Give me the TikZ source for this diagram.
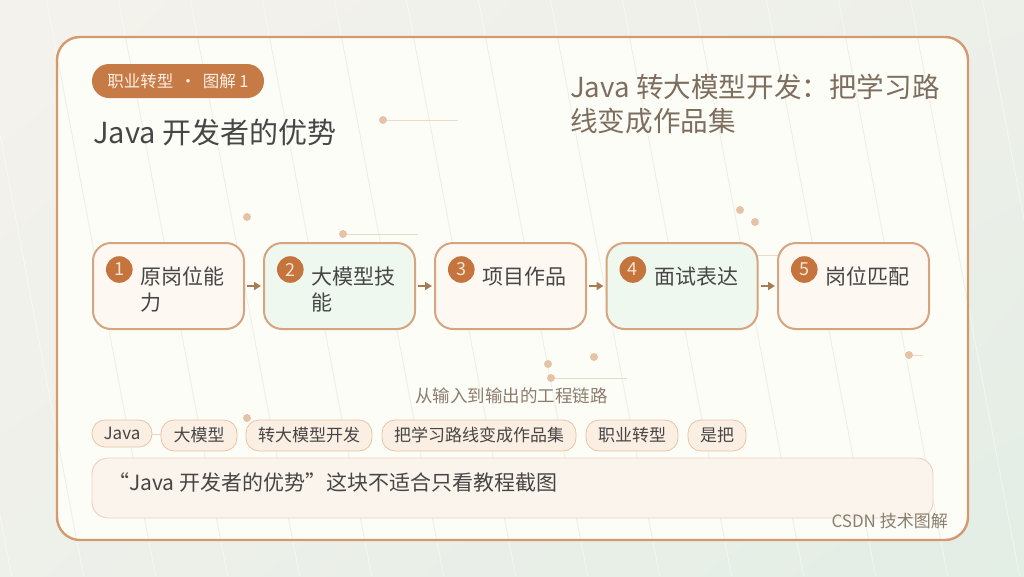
\documentclass[tikz,border=0pt]{standalone}
\usepackage{fontspec}
\setmainfont{Noto Sans CJK SC}
\usetikzlibrary{arrows.meta,shadings}
\definecolor{bgA}{HTML}{F4F2EC}
\definecolor{bgB}{HTML}{EDEFE9}
\definecolor{bgC}{HTML}{EEF0EA}
\definecolor{bgD}{HTML}{E3EEE5}
\definecolor{cardfill}{HTML}{FDFDF8}
\definecolor{cardline}{HTML}{D49A6E}
\definecolor{stripec}{HTML}{EEEFE7}
\definecolor{tagfill}{HTML}{C67A45}
\definecolor{tagtext}{HTML}{FBEFE6}
\definecolor{numfill}{HTML}{C4743C}
\definecolor{numtext}{HTML}{F6E4D4}
\definecolor{boxline}{HTML}{D6A47E}
\definecolor{warmfill}{HTML}{FEF8F3}
\definecolor{greenfill}{HTML}{EFF8EF}
\definecolor{textdark}{HTML}{464646}
\definecolor{rtitle}{HTML}{7E6E5E}
\definecolor{subc}{HTML}{8C7D6D}
\definecolor{pillfill}{HTML}{FBEEE3}
\definecolor{pillline}{HTML}{E9C4A4}
\definecolor{notefill}{HTML}{FAF4EC}
\definecolor{noteline}{HTML}{EED3BB}
\definecolor{decor}{HTML}{E5C3A7}
\definecolor{decorline}{HTML}{EDD9C8}
\definecolor{arrowc}{HTML}{A87B55}
\definecolor{footc}{HTML}{8A7E6E}
\begin{document}
\begin{tikzpicture}[x=1pt,y=-1pt,
  stepbox/.style={draw=boxline, line width=2pt, rounded corners=18pt, minimum width=151pt, minimum height=86pt, inner sep=0pt},
  numc/.style={circle, fill=numfill, minimum size=26.6pt, inner sep=0pt, text=numtext, font=\fontsize{18}{18}\selectfont},
  lbl/.style={anchor=base west, inner sep=0pt, text=textdark, font=\fontsize{21}{26}\selectfont},
  pill/.style={draw=pillline, fill=pillfill, line width=0.8pt, rounded corners=13pt, minimum height=31pt, inner sep=0pt, text=textdark, font=\fontsize{17}{20}\selectfont},
  arr/.style={-{Triangle[length=7pt,width=8pt]}, line width=2.4pt, draw=arrowc},
  dot/.style={circle, fill=decor, minimum size=8pt, inner sep=0pt},
  decline/.style={draw=decorline, line width=1pt},
  stripe/.style={draw=stripec, line width=0.9pt}
]
\useasboundingbox (0,0) rectangle (1024,576);
% background
\shade[upper left=bgA, upper right=bgB, lower left=bgC, lower right=bgD] (0,0) rectangle (1024,576);
\foreach \k in {-3,...,13} \draw[white, opacity=0.45, line width=0.9pt] ({118.5+72*\k},0) -- ({118.5+72*\k+109},576);
% card
\fill[cardfill, rounded corners=23pt] (57,37) rectangle (968,540);
\begin{scope}
  \clip[rounded corners=23pt] (57,37) rectangle (968,540);
  \foreach \k in {-3,...,13} \draw[stripe] ({118.5+72*\k},0) -- ({118.5+72*\k+109},576);
\end{scope}
\draw[cardline, line width=2.4pt, rounded corners=23pt] (57,37) rectangle (968,540);

% decorations
\node[dot] (d1) at (383,120) {}; \coordinate (d1e) at (458,120); \draw[decline] (d1) -- (d1e);
\node[dot] (d2) at (247,217) {};
\node[dot] (d3) at (740,210) {};
\node[dot] (d4) at (755,222) {};
\node[dot] (d5) at (343,234) {}; \coordinate (d5e) at (418,234); \draw[decline] (d5) -- (d5e);
\node[dot] (d6) at (548,364) {};
\node[dot] (d7) at (594,357) {};
\node[dot] (d8) at (551,378) {}; \coordinate (d8e) at (627,378); \draw[decline] (d8) -- (d8e);
\node[dot] (d9) at (909,355) {}; \coordinate (d9e) at (923,355); \draw[decline] (d9) -- (d9e);
\node[dot] (d10) at (247,418) {};
\node[dot] (d11) at (130,434) {}; \coordinate (d11e) at (205,434); \draw[decline] (d11) -- (d11e);
\node[dot] (d12) at (715,255) {}; \coordinate (d12e) at (778,255); \draw[decline] (d12) -- (d12e);

% tag
\node[fill=tagfill, rounded corners=17pt, minimum width=172pt, minimum height=34pt, inner sep=0pt, text=tagtext, font=\fontsize{16.5}{20}\selectfont] (tag) at (178,81) {职业转型 \,·\, 图解 1};

% titles
\node[anchor=base west, inner sep=0pt, text=textdark, font=\fontsize{29}{34}\selectfont] (title) at (93,143) {Java 开发者的优势};
\node[anchor=base west, inner sep=0pt, text=rtitle, font=\fontsize{27.6}{34}\selectfont] (rt1) at (570,97) {Java 转大模型开发：把学习路};
\node[anchor=base west, inner sep=0pt, text=rtitle, font=\fontsize{27.6}{34}\selectfont] (rt2) at (570,131) {线变成作品集};

% steps
\node[stepbox, fill=warmfill] (b1) at (168.5,286) {};
\node[stepbox, fill=greenfill] (b2) at (339.5,286) {};
\node[stepbox, fill=warmfill] (b3) at (510.5,286) {};
\node[stepbox, fill=greenfill] (b4) at (682,286) {};
\node[stepbox, fill=warmfill] (b5) at (853.5,286) {};

\node[numc] (n1) at (119.3,269.5) {1};
\node[numc] (n2) at (290.3,269.5) {2};
\node[numc] (n3) at (461.3,269.5) {3};
\node[numc] (n4) at (632.8,269.5) {4};
\node[numc] (n5) at (804.3,269.5) {5};

\node[lbl] (l1) at (140,284) {原岗位能};
\node[lbl] (l1b) at (140,310) {力};
\node[lbl] (l2) at (311,284) {大模型技};
\node[lbl] (l2b) at (311,310) {能};
\node[lbl] (l3) at (482,284) {项目作品};
\node[lbl] (l4) at (654,284) {面试表达};
\node[lbl] (l5) at (825,284) {岗位匹配};

\draw[arr] ([xshift=2pt]b1.east) -- ([xshift=-2pt]b2.west);
\draw[arr] ([xshift=2pt]b2.east) -- ([xshift=-2pt]b3.west);
\draw[arr] ([xshift=2pt]b3.east) -- ([xshift=-2pt]b4.west);
\draw[arr] ([xshift=2pt]b4.east) -- ([xshift=-2pt]b5.west);

% subtitle
\node[anchor=base, inner sep=0pt, text=subc, font=\fontsize{17.5}{20}\selectfont] (sub) at (511.5,402) {从输入到输出的工程链路};

% pills
\node[pill, minimum width=60pt, minimum height=27pt] (p1) at (122,433.5) {Java};
\node[pill, minimum width=76pt] (p2) at (199,435.5) {大模型};
\node[pill, minimum width=126pt] (p3) at (309,435.5) {转大模型开发};
\node[pill, minimum width=194pt] (p4) at (479,435.5) {把学习路线变成作品集};
\node[pill, minimum width=92pt] (p5) at (632,435.5) {职业转型};
\node[pill, minimum width=58pt] (p6) at (717,435.5) {是把};

% note
\node[draw=noteline, fill=notefill, line width=0.9pt, rounded corners=16pt, minimum width=841pt, minimum height=60pt, inner sep=0pt] (note) at (512.5,488) {};
\node[anchor=base west, inner sep=0pt, text=textdark, font=\fontsize{21}{24}\selectfont] (notetext) at (108,490) {“Java 开发者的优势”这块不适合只看教程截图};

% footer
\node[anchor=base east, inner sep=0pt, text=footc, font=\fontsize{17}{20}\selectfont] (foot) at (948,527) {CSDN 技术图解};
\end{tikzpicture}
\end{document}
